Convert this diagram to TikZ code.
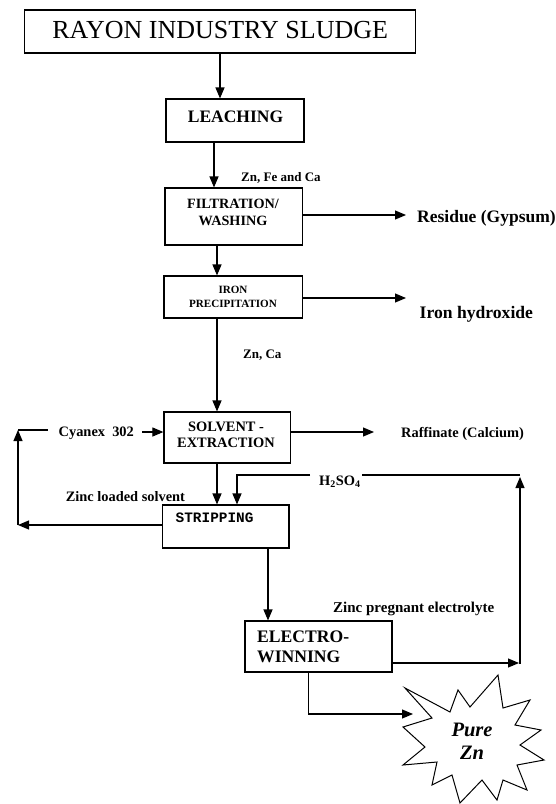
\documentclass[tikz,border=0pt]{standalone}
\usepackage{fontspec}
\setmainfont{Liberation Serif}
\setmonofont{Liberation Mono}
\usetikzlibrary{arrows.meta}
\tikzset{
  box/.style={draw, line width=1.1pt, inner sep=0pt, rectangle},
  arr/.style={line width=1.1pt, -{Triangle[length=11pt,width=9pt]}},
  ln/.style={line width=1.1pt},
  lbl/.style={inner sep=0pt, anchor=west, font=\bfseries\fontsize{13}{15}\selectfont},
  mid/.style={inner sep=0pt, anchor=west, font=\bfseries\fontsize{14.4}{16}\selectfont},
  big/.style={inner sep=0pt, anchor=west, font=\bfseries\fontsize{17.6}{20}\selectfont},
  boxtext/.style={inner sep=0pt, align=center},
}
\begin{document}
\begin{tikzpicture}[x=1pt,y=-1pt]
\useasboundingbox (0,0) rectangle (556,804);
\fill[white] (0,0) rectangle (556,804);

% boxes
\node[box, minimum width=390.8pt, minimum height=43pt] (rayon) at (220.2,31.5) {};
\node[boxtext, font=\fontsize{26}{30}\selectfont] (rayont) at (220.2,30.5) {RAYON INDUSTRY SLUDGE};

\node[box, minimum width=138pt, minimum height=43pt] (leach) at (235,120.5) {};
\node[boxtext, font=\bfseries\fontsize{17.5}{20}\selectfont] (leacht) at (235.5,117) {LEACHING};

\node[box, minimum width=137.5pt, minimum height=57pt] (filt) at (233.7,216.5) {};
\node[boxtext, font=\bfseries\fontsize{14.2}{17}\selectfont] (filtt) at (233,212) {FILTRATION/\\WASHING};

\node[box, minimum width=138.5pt, minimum height=42pt] (iron) at (233.2,297) {};
\node[boxtext, font=\bfseries\fontsize{11.1}{14}\selectfont] (iront) at (233,297) {IRON\\PRECIPITATION};

\node[box, minimum width=126.5pt, minimum height=51pt] (solv) at (227.2,437.5) {};
\node[boxtext, font=\bfseries\fontsize{14.4}{16}\selectfont] (solvt) at (226,435) {SOLVENT -\\EXTRACTION};

\node[box, minimum width=126.5pt, minimum height=43pt] (strip) at (225.7,526.5) {};
\node[inner sep=0pt, anchor=west, font=\ttfamily\bfseries\fontsize{14.4}{16}\selectfont] (stript) at (175.5,517.5) {STRIPPING};

\node[box, minimum width=147pt, minimum height=51pt] (ew) at (318.5,646.5) {};
\node[inner sep=0pt, anchor=west, align=left, font=\bfseries\fontsize{17.6}{20}\selectfont] (ewt) at (257,647) {ELECTRO-\\WINNING};

% labels
\node[lbl] (zfc) at (241,177.5) {Zn, Fe and Ca};
\node[big, font=\bfseries\fontsize{17.5}{20}\selectfont] (resid) at (417,218.5) {Residue (Gypsum)};
\node[big] (ironh) at (419.5,314) {Iron hydroxide};
\node[lbl] (znca) at (243,355.5) {Zn, Ca};
\node[mid] (cyan) at (58.5,433.5) {Cyanex\ \ 302};
\node[mid] (raff) at (401,433.5) {Raffinate (Calcium)};
\node[mid] (zls) at (65.6,496.5) {Zinc loaded solvent};
\node[mid] (h2so4) at (319,482) {H\textsubscript{2}SO\textsubscript{4}};
\node[mid, font=\bfseries\fontsize{15}{17}\selectfont] (zpe) at (333,608.5) {Zinc pregnant electrolyte};

% star
\draw[line width=1pt, line join=miter, fill=white]
  (405,688) -- (450,712) -- (458,690) -- (470,707) -- (498,675) -- (503,708)
  -- (530,700) -- (515,725) -- (541,730) -- (520,745) -- (544,760) -- (517,765)
  -- (527,790) -- (503,780) -- (497,800) -- (482,780) -- (460,803) -- (452,775)
  -- (432,785) -- (437,762) -- (403,765) -- (425,747) -- (403,727) -- (432,718)
  -- cycle;
\node[boxtext, font=\bfseries\itshape\fontsize{20.5}{23}\selectfont] (pure) at (472,741) {Pure\\Zn};

% coordinates for free ends
\coordinate (resa) at (406,215);
\coordinate (irona) at (406,298);
\coordinate (cya) at (142,432);
\coordinate (rafa) at (374,432);
\coordinate (lt) at (18,430);
\coordinate (lb) at (18,525);
\coordinate (lr) at (48,430);
\coordinate (hr) at (520,475);
\coordinate (hm1) at (362,475);
\coordinate (hm2) at (310,475);
\coordinate (hl) at (237,475);
\coordinate (er) at (519,663);
\coordinate (vb) at (520,664);
\coordinate (vt) at (520,477);
\coordinate (sb) at (308.5,714);
\coordinate (sin) at (413,714);

% main chain
\draw[arr] (rayon.south -| 220,0) -- (leach.north -| 220,0);
\draw[arr] (leach.south -| 214,0) -- (filt.north -| 214,0);
\draw[arr] (filt.south -| 217,0) -- (iron.north -| 217,0);
\draw[arr] (iron.south -| 217,0) -- (solv.north -| 217,0);
\draw[arr] (solv.south -| 217,0) -- (strip.north -| 217,0);
\draw[arr] (strip.south -| 268,0) -- (ew.north -| 268,0);

% side outputs
\draw[arr] (filt.east |- resa) -- (resa);
\draw[arr] (iron.east |- irona) -- (irona);
\draw[arr] (cya) -- (cya -| solv.west);
\draw[arr] (solv.east |- rafa) -- (rafa);

% solvent recycle loop
\draw[arr] (strip.west |- lb) -- (lb);
\draw[arr] (lb) -- (lt);
\draw[ln] (lt) -- (lr);

% acid loop
\draw[arr] (ew.east |- er) -- (er);
\draw[arr] (vb) -- (vt);
\draw[ln] (hr) -- (hm1);
\draw[arr] (hm2) -- (hl) -- (hl |- strip.north);

% product
\draw[arr] (ew.south -| sb) -- (sb) -- (sin);
\end{tikzpicture}
\end{document}
